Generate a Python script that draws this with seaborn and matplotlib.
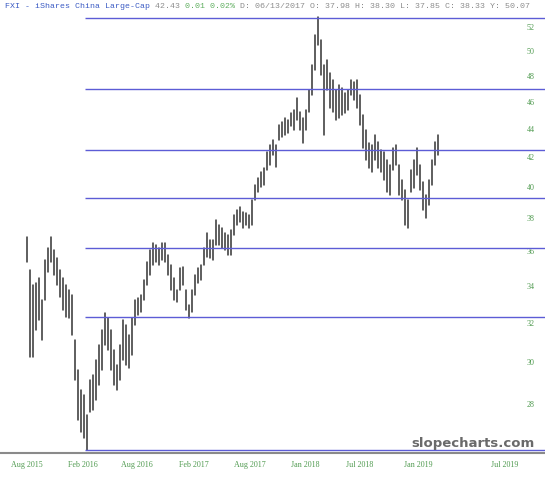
import matplotlib
matplotlib.use("Agg")
import matplotlib.pyplot as plt
from matplotlib.ticker import NullLocator
import seaborn as sns
import numpy as np
import pandas as pd

sns.set_style("white")
plt.rcParams['font.family'] = ['Liberation Serif', 'DejaVu Serif']

# FXI bar highs / lows (one bar every ~10 days)
highs = [36.83, 34.89, 34.04, 34.15, 34.44, 33.21, 35.47, 36.18, 36.83, 36.06,
         35.59, 34.89, 34.44, 34.04, 33.76, 33.49, 31.10, 29.61, 28.65, 28.42,
         27.50, 29.13, 29.36, 30.10, 30.85, 31.62, 32.51, 32.25, 31.62, 30.60,
         29.85, 30.85, 32.14, 31.88, 31.36, 32.25, 33.21, 33.32, 33.49, 34.32,
         35.35, 36.06, 36.47, 36.35, 36.18, 36.47, 36.47, 35.76, 35.18, 34.44,
         33.76, 35.00, 35.06, 33.76, 32.94, 33.76, 34.61, 35.00, 35.18, 36.18,
         37.08, 36.65, 36.65, 37.88, 37.57, 37.38, 37.08, 36.95, 37.26, 38.19,
         38.50, 38.69, 38.38, 38.31, 38.19, 39.14, 40.12, 40.58, 40.98, 41.25,
         42.35, 42.84, 43.19, 42.84, 44.27, 44.49, 44.78, 44.64, 45.15, 45.37,
         46.28, 45.22, 44.78, 45.37, 46.89, 48.85, 51.32, 52.86, 50.90, 48.85,
         49.26, 48.22, 47.67, 46.89, 47.28, 47.04, 46.66, 46.89, 47.67, 47.51,
         47.67, 46.51, 45.00, 43.91, 42.98, 42.84, 43.55, 43.05, 42.49, 42.35,
         41.80, 41.46, 42.63, 42.84, 41.46, 40.45, 39.79, 39.14, 41.12, 41.80,
         42.63, 41.46, 40.32, 39.46, 40.45, 41.80, 43.05, 43.55]
lows = [35.35, 30.25, 30.25, 31.62, 32.14, 31.10, 33.21, 34.78, 35.35, 34.61,
        34.04, 33.38, 32.67, 32.30, 32.25, 31.36, 29.13, 27.27, 26.74, 26.48,
        25.96, 27.63, 27.72, 28.18, 28.89, 29.61, 30.85, 30.60, 29.61, 28.89,
        28.65, 29.13, 30.10, 29.85, 29.71, 30.35, 31.88, 32.41, 32.57, 33.21,
        34.04, 34.61, 35.18, 35.35, 35.18, 35.47, 35.35, 34.61, 33.76, 33.21,
        33.10, 33.76, 34.04, 32.67, 32.25, 32.57, 33.49, 34.15, 34.32, 35.18,
        35.65, 35.59, 35.47, 36.35, 36.35, 36.18, 36.06, 35.76, 35.76, 36.95,
        37.57, 37.76, 37.38, 37.57, 37.38, 37.57, 39.14, 39.66, 39.99, 40.12,
        41.12, 41.46, 42.14, 41.32, 43.19, 43.41, 43.55, 43.69, 44.20, 43.91,
        44.64, 43.91, 42.98, 43.91, 45.22, 46.51, 48.46, 50.49, 48.06, 43.55,
        46.89, 45.52, 45.22, 44.64, 44.78, 45.00, 45.15, 45.37, 46.51, 46.13,
        45.52, 44.27, 42.63, 41.80, 41.25, 40.98, 41.80, 41.25, 40.98, 40.45,
        39.66, 39.46, 41.12, 41.46, 39.46, 39.14, 37.57, 37.38, 39.66, 39.92,
        40.78, 39.79, 38.50, 38.00, 38.82, 40.12, 41.46, 42.14]

# retracement levels drawn from the Feb 2016 low
fib_levels = [52.8, 47.0, 42.5, 39.3, 36.2, 32.3, 25.96]

price_ticks = [28, 30, 32, 34, 36, 38, 40, 42, 44, 46, 48, 50, 52]
month_labels = ['Aug 2015', 'Feb 2016', 'Aug 2016', 'Feb 2017', 'Aug 2017',
                'Jan 2018', 'Jul 2018', 'Jan 2019', 'Jul 2019']
month_pos = [0, 18.7, 36.7, 55.7, 74.3, 92.7, 111, 130.3, 159.3]

n = len(highs)
df = pd.DataFrame({
    'bar': np.repeat(np.arange(n), 2),
    'price': np.column_stack([highs, lows]).ravel(),
})

fig = plt.figure(figsize=(5.45, 4.8), dpi=100)
ax = fig.add_axes([0, 27 / 480, 1, 453 / 480])

sns.lineplot(data=df, x='bar', y='price', units='bar', estimator=None,
             color='#333333', linewidth=1.1, ax=ax, legend=False)

ax.set_yscale('log')
ax.set_ylim(25.84, 54.36)
ax.set_xlim(-9, 172.67)

# horizontal levels start at the low bar and run to the right edge
start = int(np.argmin(lows)) - 0.5
ax.hlines(fib_levels, start, 172.67, color='#5c5cd6', linewidth=1)

green = '#4f9a4f'
ax.yaxis.tick_right()
ax.set_yticks(price_ticks)
ax.set_yticklabels([str(t) for t in price_ticks])
ax.yaxis.set_minor_locator(NullLocator())
ax.tick_params(axis='y', length=0, pad=-13, labelsize=5.8, labelcolor=green)

ax.set_xticks(month_pos)
ax.set_xticklabels(month_labels)
ax.tick_params(axis='x', length=0, pad=6, labelsize=5.8, labelcolor=green)

ax.set_xlabel('')
ax.set_ylabel('')
for side in ['left', 'right', 'top']:
    ax.spines[side].set_visible(False)
ax.spines['bottom'].set_color('#8a8a8a')
ax.spines['bottom'].set_linewidth(1.5)

# header line, coloured pieces chained one after another
segments = [("FXI - iShares China Large-Cap", '#3b5bc4'),
            (" 42.43", '#8c8c8c'),
            (" 0.01 0.02%", '#5fae5f'),
            (" D: 06/13/2017 O: 37.98 H: 38.30 L: 37.85 C: 38.33 Y: 50.07", '#8c8c8c')]
t = fig.text(5 / 545, 1 - 7 / 480, segments[0][0], color=segments[0][1],
             family='Liberation Mono', fontsize=5.95, va='center', ha='left')
for txt, col in segments[1:]:
    t = ax.annotate(txt, xy=(1, 0), xycoords=t, va='bottom', ha='left',
                    color=col, family='Liberation Mono', fontsize=5.95)

fig.text(535 / 545, 1 - 443 / 480, 'slopecharts.com', ha='right', va='center',
         fontsize=9.5, fontweight='bold', color='#6a6a6a', family='DejaVu Sans')

fig.savefig('out.png', dpi=100)
